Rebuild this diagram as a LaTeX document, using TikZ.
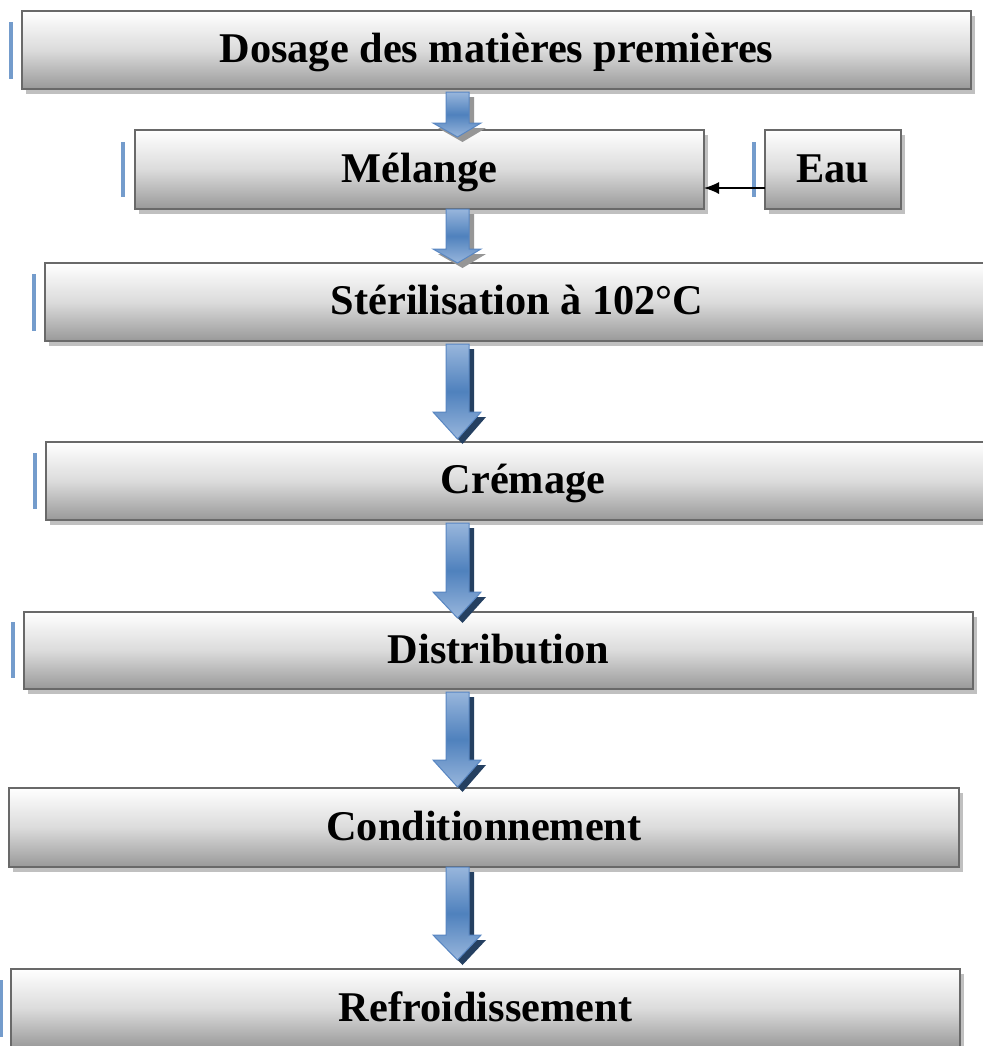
\documentclass[tikz,border=0pt]{standalone}
\usepackage{fontspec}
\setmainfont{Liberation Serif}
\usetikzlibrary{shadows,arrows.meta,calc}
\definecolor{barblue}{RGB}{116,156,204}
\definecolor{arrL}{RGB}{152,182,220}
\definecolor{arrM}{RGB}{79,129,189}
\definecolor{arrLine}{RGB}{88,134,194}
\definecolor{arrShDark}{RGB}{37,64,97}
\definecolor{arrShGray}{RGB}{150,150,150}
\definecolor{boxLine}{RGB}{105,105,105}
\definecolor{boxShadow}{RGB}{192,192,192}
\tikzset{
  stepbox/.style={draw=boxLine, line width=2.2bp, top color=white, bottom color=black!40, middle color=black!14,
    minimum height=78bp, inner sep=0pt, outer sep=0pt,
    font=\bfseries\fontsize{42.5}{50}\selectfont, text height=32bp, text depth=7bp,
    drop shadow={shadow xshift=4bp, shadow yshift=-5bp, fill=boxShadow, opacity=1}},
  cursorbar/.style={fill=barblue, draw=none},
  blockarrow/.style={draw=arrLine, line width=1bp, top color=arrL, bottom color=arrL, middle color=arrM, line join=miter},
  feedline/.style={draw=black, line width=1.3bp, -{Latex[length=15bp,width=12bp]}}
}
% from, to, top offset, tip offset, head length, shadow colour
\newcommand\flowarr[6]{%
  \path[blockarrow, drop shadow={shadow xshift=5bp, shadow yshift=-5bp, fill=#6, opacity=1}]
    let \p1=(#1.south), \p2=(#2.north) in
    ({446bp},{\y1-(#3bp)}) -- ({469bp},{\y1-(#3bp)}) -- ({469bp},{\y2-(#4bp)+(#5bp)})
    -- ({481bp},{\y2-(#4bp)+(#5bp)}) -- ({457.5bp},{\y2-(#4bp)}) -- ({433bp},{\y2-(#4bp)+(#5bp)})
    -- ({446bp},{\y2-(#4bp)+(#5bp)}) -- cycle;}
\begin{document}
\begin{tikzpicture}[x=1bp,y=-1bp]
\useasboundingbox[fill=white] (0,0) rectangle (983,1046);

\node[stepbox, minimum width=949bp] (dosage)   at (496.5,50)    {Dosage des matières premières};
\node[stepbox, minimum width=569bp, minimum height=79bp] (melange)  at (419.5,169.5) {Mélange};
\node[stepbox, minimum width=136bp, minimum height=79bp] (eau)      at (833,169.5)   {Eau};
\node[stepbox, minimum width=944bp] (steril)   at (517,302)     {Stérilisation à 102°C};
\node[stepbox, minimum width=954bp] (cremage)  at (523,481)     {Crémage};
\node[stepbox, minimum width=949bp, minimum height=77bp] (distrib)  at (498.5,650.5) {Distribution};
\node[stepbox, minimum width=950bp, minimum height=79bp] (condit)   at (484,827.5)   {Conditionnement};
\node[stepbox, minimum width=949bp, minimum height=79bp] (refroid)  at (485.5,1008.5) {Refroidissement};

\fill[cursorbar] (9,22) rectangle (13,79);
\fill[cursorbar] (121,142) rectangle (125,197);
\fill[cursorbar] (752,142) rectangle (756,197);
\fill[cursorbar] (32,274) rectangle (36,331);
\fill[cursorbar] (33,453) rectangle (37,509);
\fill[cursorbar] (11,622) rectangle (15,678);
\fill[cursorbar] (0,980) rectangle (3,1037);

\draw[feedline] ([yshift=-18.5bp]eau.west) -- ([yshift=-18.5bp]melange.east);

\flowarr{dosage}{melange}{3}{7}{14}{arrShGray}
\flowarr{melange}{steril}{0}{0}{14}{arrShGray}
\flowarr{steril}{cremage}{3}{-3}{27}{arrShDark}
\flowarr{cremage}{distrib}{3}{6}{26}{arrShDark}
\flowarr{distrib}{condit}{3}{-1}{27}{arrShDark}
\flowarr{condit}{refroid}{0}{-9}{25}{arrShDark}
\end{tikzpicture}
\end{document}
